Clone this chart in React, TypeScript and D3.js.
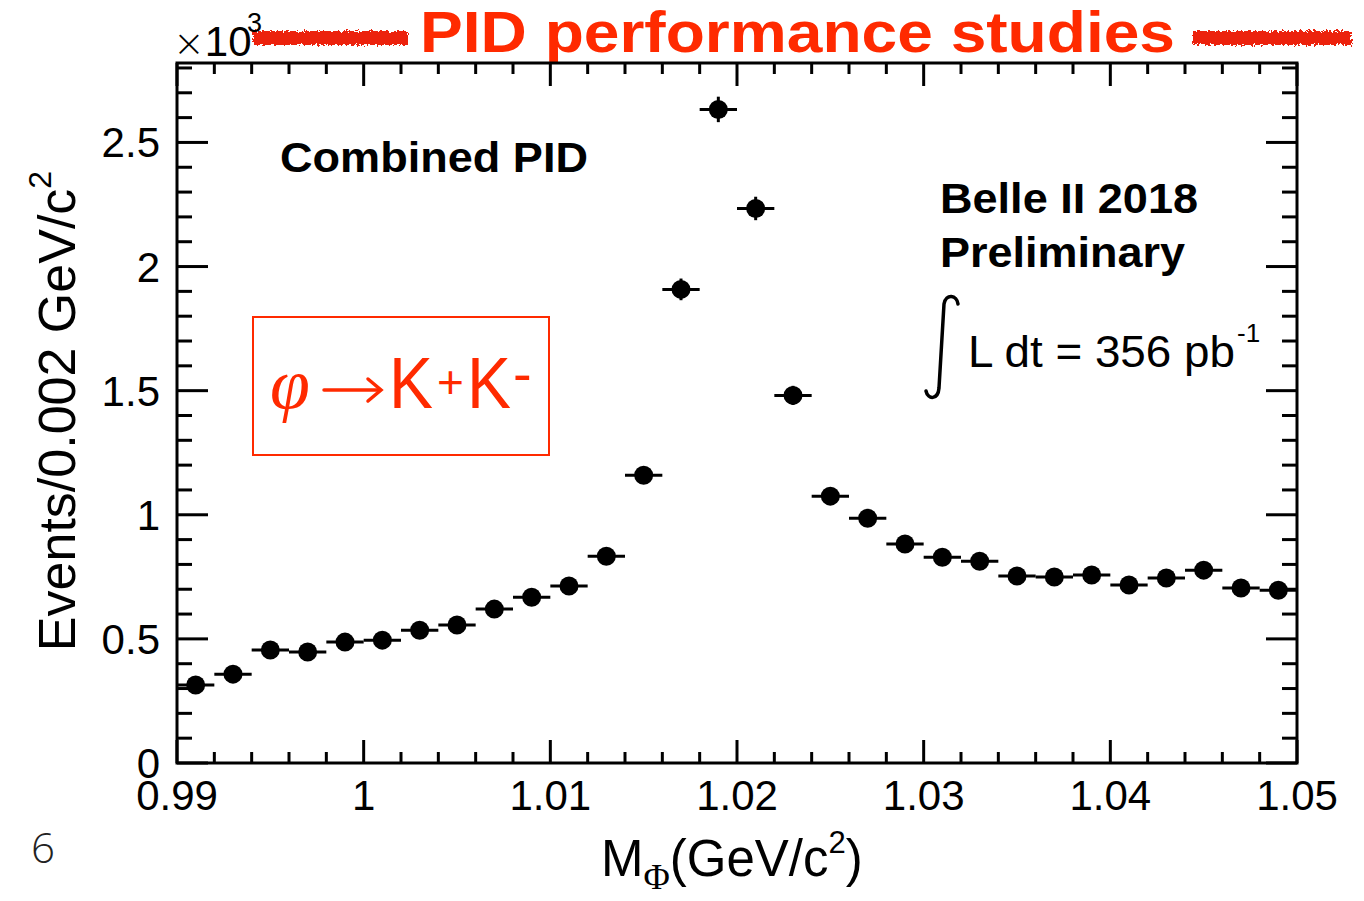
import React from "react";
import * as d3 from "d3";

// ---- data (counts in units of 10^3 per 0.002 GeV/c^2 bin) ----
const binCenters = [
  0.991, 0.993, 0.995, 0.997, 0.999, 1.001, 1.003, 1.005, 1.007, 1.009,
  1.011, 1.013, 1.015, 1.017, 1.019, 1.021, 1.023, 1.025, 1.027, 1.029,
  1.031, 1.033, 1.035, 1.037, 1.039, 1.041, 1.043, 1.045, 1.047, 1.049,
];
const counts = [
  0.314, 0.358, 0.455, 0.447, 0.487, 0.495, 0.535, 0.556, 0.62, 0.668,
  0.713, 0.833, 1.159, 1.908, 2.633, 2.234, 1.481, 1.075, 0.986, 0.882,
  0.829, 0.813, 0.753, 0.749, 0.757, 0.717, 0.745, 0.777, 0.705, 0.696,
];
const binHalfWidth = 0.001;
const xMajorTicks = [0.99, 1.0, 1.01, 1.02, 1.03, 1.04, 1.05];
const xTickLabels = ["0.99", "1", "1.01", "1.02", "1.03", "1.04", "1.05"];
const yMajorTicks = [0, 0.5, 1, 1.5, 2, 2.5];
const yTickLabels = ["0", "0.5", "1", "1.5", "2", "2.5"];

const W = 1364;
const H = 901;
const FL = 177, FR = 1297, FT = 63, FB = 763;
const RED = "#ff2a00";
const SANS = "'Liberation Sans', Arial, Helvetica, sans-serif";

export default function App() {
  const x = d3.scaleLinear().domain([0.99, 1.05]).range([FL, FR]);
  const y = d3.scaleLinear().domain([0, 2.82]).range([FB, FT]);
  const xMinor = x.ticks(30);
  const yMinor = y.ticks(28);

  const pts = binCenters.map((c, i) => ({
    c,
    v: counts[i],
    e: Math.sqrt(counts[i] * 1000) / 1000,
  }));

  return (
    <svg
      width={W}
      height={H}
      style={{ position: "absolute", left: 0, top: 0, background: "#fff" }}
      fontFamily={SANS}
    >
      <defs>
        <filter id="rough" x="-5%" y="-60%" width="110%" height="220%">
          <feTurbulence type="fractalNoise" baseFrequency="0.35" numOctaves="2" seed="3" result="n" />
          <feDisplacementMap in="SourceGraphic" in2="n" scale="7" />
        </filter>
      </defs>
      <rect x={0} y={0} width={W} height={H} fill="#fff" />

      {/* title + scribbles */}
      <g filter="url(#rough)" fill="#ec2010">
        <rect x={253} y={31} width={155} height={14} />
        <rect x={1193} y={31} width={158} height={14} />
      </g>
      <text x={420} y={52} fontSize={57} fontWeight="bold" fill={RED} textLength={755} lengthAdjust="spacingAndGlyphs">
        PID performance studies
      </text>

      {/* x10^3 */}
      <text x={173} y={56} fontSize={42} fill="#000">
        <tspan fontFamily="'DejaVu Sans', sans-serif" fontSize={38} fontWeight={300}>×</tspan>
        <tspan>10</tspan>
      </text>
      <text x={247} y={32} fontSize={27} fill="#000">
        3
      </text>

      {/* frame */}
      <rect x={FL} y={FT} width={FR - FL} height={FB - FT} fill="none" stroke="#000" strokeWidth={3} />

      {/* x ticks bottom & top */}
      {xMinor.map((t, i) => {
        const major = xMajorTicks.some((m) => Math.abs(m - t) < 1e-9);
        const len = major ? 23 : 11;
        return (
          <g key={"xt" + i} stroke="#000" strokeWidth={3}>
            <line x1={x(t)} x2={x(t)} y1={FB} y2={FB - len} />
            <line x1={x(t)} x2={x(t)} y1={FT} y2={FT + len} />
          </g>
        );
      })}
      {/* y ticks left & right */}
      {yMinor.map((t, i) => {
        const major = yMajorTicks.some((m) => Math.abs(m - t) < 1e-9);
        const len = major ? 31 : 15;
        return (
          <g key={"yt" + i} stroke="#000" strokeWidth={3}>
            <line x1={FL} x2={FL + len} y1={y(t)} y2={y(t)} />
            <line x1={FR} x2={FR - len} y1={y(t)} y2={y(t)} />
          </g>
        );
      })}

      {/* tick labels */}
      {xMajorTicks.map((t, i) => (
        <text key={"xl" + i} x={x(t)} y={810} fontSize={42} textAnchor="middle" fill="#000">
          {xTickLabels[i]}
        </text>
      ))}
      {yMajorTicks.map((t, i) => (
        <text key={"yl" + i} x={160} y={y(t) + 15} fontSize={42} textAnchor="end" fill="#000">
          {yTickLabels[i]}
        </text>
      ))}

      {/* axis titles */}
      <text x={601} y={876} fontSize={51} fill="#000">
        M
        <tspan fontFamily="'Liberation Serif', serif" fontSize={36} dy={13}>
          Φ
        </tspan>
        <tspan fontSize={51} dy={-13}>
          (GeV/c
        </tspan>
        <tspan fontSize={31} dy={-23}>
          2
        </tspan>
        <tspan fontSize={51} dy={23}>
          )
        </tspan>
      </text>
      <text transform="translate(75,411) rotate(-90)" textAnchor="middle" fontSize={52} fill="#000">
        Events/0.002 GeV/c
        <tspan fontSize={32} dy={-24}>
          2
        </tspan>
      </text>

      {/* data points with error bars */}
      {pts.map((p, i) => (
        <g key={"p" + i} stroke="#000" strokeWidth={3}>
          <line x1={x(p.c - binHalfWidth)} x2={x(p.c + binHalfWidth)} y1={y(p.v)} y2={y(p.v)} />
          <line x1={x(p.c)} x2={x(p.c)} y1={y(p.v - p.e)} y2={y(p.v + p.e)} />
          <circle cx={x(p.c)} cy={y(p.v)} r={9.5} fill="#000" stroke="none" />
        </g>
      ))}

      {/* annotations */}
      <text x={280} y={172} fontSize={43} fontWeight="bold" fill="#000" textLength={308} lengthAdjust="spacingAndGlyphs">
        Combined PID
      </text>
      <text x={940} y={213} fontSize={42} fontWeight="bold" fill="#000" textLength={258} lengthAdjust="spacingAndGlyphs">
        Belle II 2018
      </text>
      <text x={940} y={267} fontSize={42} fontWeight="bold" fill="#000" textLength={245} lengthAdjust="spacingAndGlyphs">
        Preliminary
      </text>
      <path
        d="M 958 304 C 957 295, 946 293, 944 304 L 939 388 C 938 400, 928 400, 926 391"
        fill="none"
        stroke="#000"
        strokeWidth={3.5}
        strokeLinecap="round"
      />
      <text x={968} y={367} fontSize={44} fill="#000" textLength={267} lengthAdjust="spacingAndGlyphs">
        L dt = 356 pb
      </text>
      <text x={1237} y={342} fontSize={26} fill="#000">
        -1
      </text>

      {/* red box */}
      <rect x={253} y={317} width={296} height={138} fill="none" stroke={RED} strokeWidth={2} />
      <text x={270} y={408} fontSize={72} fontStyle="italic" fontFamily="'Liberation Serif', serif" fill={RED}>
        φ
      </text>
      <g stroke={RED} strokeWidth={3.5} fill="none" strokeLinecap="round">
        <line x1={324} x2={380} y1={390} y2={390} />
        <path d="M 368 379 L 381 390 L 368 401" />
      </g>
      <text x={389} y={408} fontSize={72} fill={RED} textLength={44} lengthAdjust="spacingAndGlyphs">
        K
      </text>
      <text x={437} y={398} fontSize={46} fill={RED}>
        +
      </text>
      <text x={467} y={408} fontSize={72} fill={RED} textLength={44} lengthAdjust="spacingAndGlyphs">
        K
      </text>
      <text x={513} y={393} fontSize={56} fill={RED}>
        -
      </text>

      {/* page number */}
      <text x={31} y={863} fontSize={42} fontWeight={300} fontFamily="'Open Sans', Lato, sans-serif" fill="#222">
        6
      </text>
    </svg>
  );
}
